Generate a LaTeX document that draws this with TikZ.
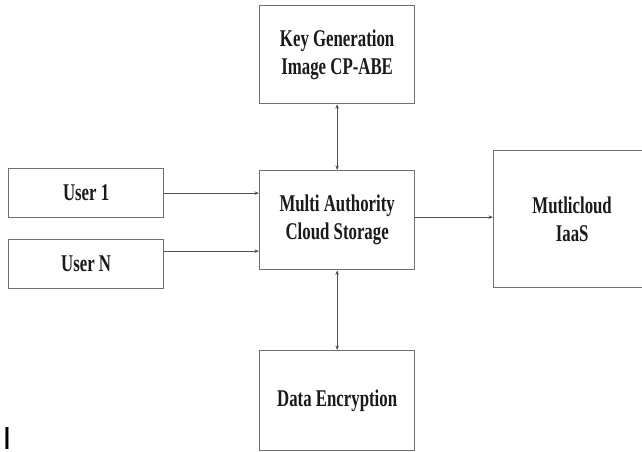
\documentclass[tikz,border=0pt]{standalone}
\usepackage{fontspec}
\setmainfont{Liberation Serif}[FakeStretch=0.7]
\newfontfamily\cursorfont{Liberation Sans}
\usetikzlibrary{arrows.meta}
\definecolor{boxline}{HTML}{707070}
\definecolor{arrline}{HTML}{505050}
\definecolor{txt}{HTML}{1A1A1A}
\tikzset{
  box/.style={draw=boxline, line width=1.3pt, fill=white, inner sep=0pt,
    align=center, text=txt, anchor=north west,
    font=\bfseries\fontsize{24}{28}\selectfont},
  arr/.style={draw=arrline, line width=0.8pt, -{Stealth[length=4.5pt,width=3.5pt]}},
  darr/.style={draw=arrline, line width=0.8pt, {Stealth[length=4.5pt,width=3.5pt]}-{Stealth[length=4.5pt,width=3.5pt]}}
}
\begin{document}
\begin{tikzpicture}[x=1pt,y=-1pt]
\useasboundingbox (0,0) rectangle (642,452);
\clip (0,0) rectangle (642,452);
\fill[white] (0,0) rectangle (642,452);
\node[box, minimum width=155pt, minimum height=98pt] (key) at (259,5) {Key Generation\\Image CP-ABE};
\node[box, minimum width=155pt, minimum height=49pt] (user1) at (8,168) {User 1};
\node[box, minimum width=155pt, minimum height=49pt] (userN) at (8,239) {User N};
\node[box, minimum width=155pt, minimum height=99pt] (multi) at (259,170) {Multi Authority\\Cloud Storage};
\node[box, minimum width=157pt, minimum height=137pt] (iaas) at (493,150) {Mutlicloud\\IaaS};
\node[box, minimum width=155pt, minimum height=100pt] (data) at (259,350) {Data Encryption};
\node[inner sep=0pt, anchor=base, text=black, font=\cursorfont\fontsize{32}{32}\selectfont] (cursor) at (7,449) {I};
\draw[arr] (user1.east) -- (user1.east -| multi.west);
\draw[arr] ([yshift=13pt]userN.east) -- ([yshift=13pt]userN.east -| multi.west);
\draw[arr] ([yshift=3pt]multi.east) -- ([yshift=3pt]multi.east -| iaas.west);
\draw[darr] (key.south) -- (multi.north);
\draw[darr] (multi.south) -- (data.north);
\end{tikzpicture}
\end{document}
